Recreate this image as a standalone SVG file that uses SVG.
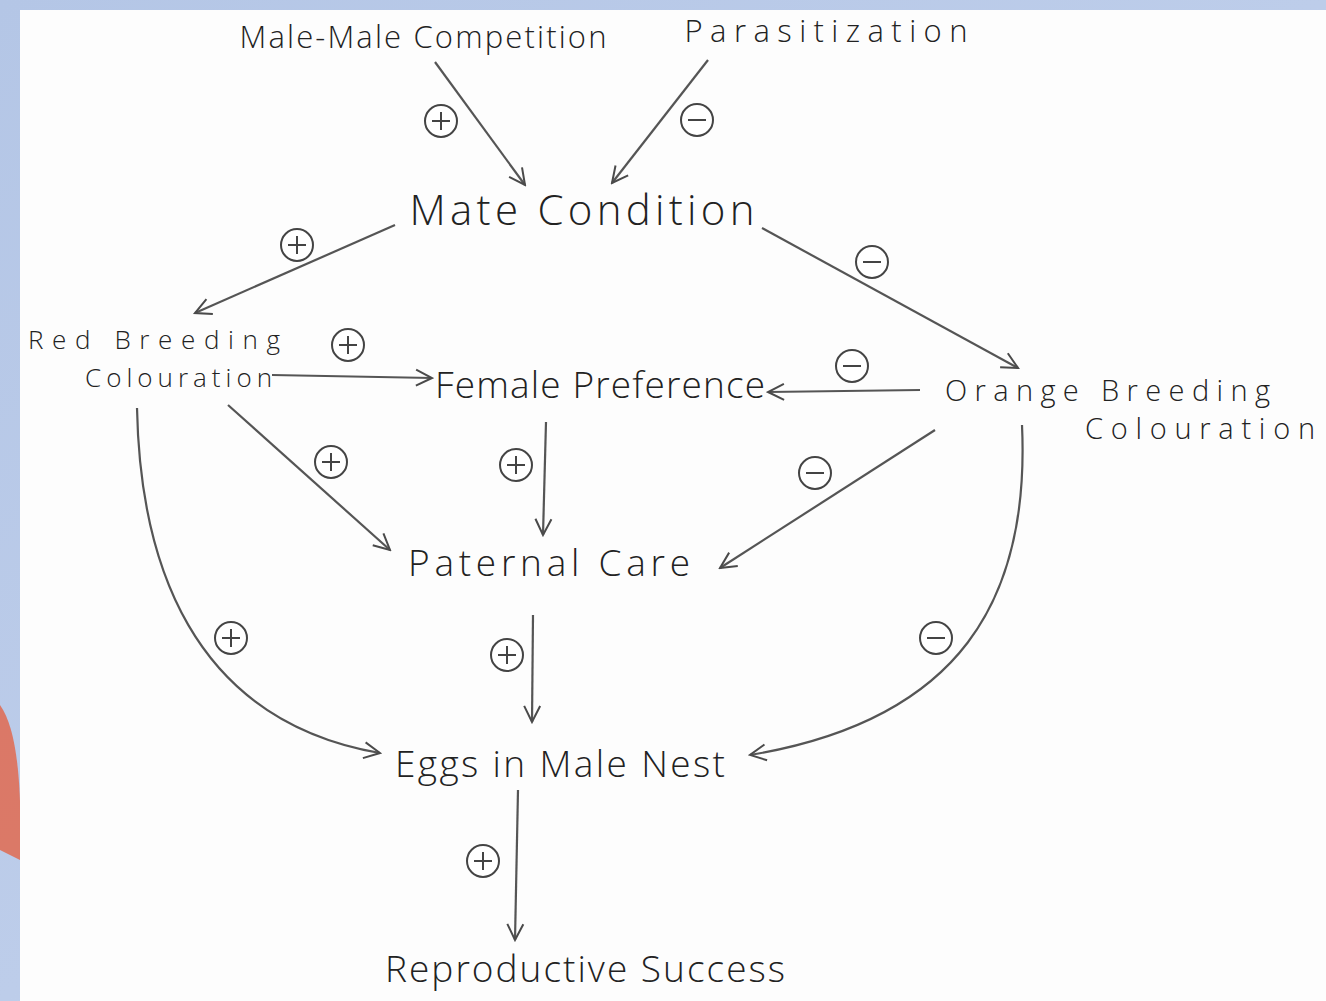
<svg xmlns="http://www.w3.org/2000/svg" width="1326" height="1001" viewBox="0 0 1326 1001">
<defs>
<linearGradient id="bg" x1="0" y1="0" x2="1" y2="1">
<stop offset="0" stop-color="#b4c6e6"/><stop offset="1" stop-color="#c6d4ee"/>
</linearGradient>
<marker id="ah" viewBox="0 0 20 20" refX="18" refY="10" markerWidth="20" markerHeight="20" markerUnits="userSpaceOnUse" orient="auto">
<path d="M2,2 L18,10 L2,18" fill="none" stroke="#4a4a4a" stroke-width="2"/>
</marker>
<style>
.t{font-family:"Open Sans","Liberation Sans",sans-serif;fill:#222;font-weight:300}
.c{fill:none;stroke:#555;stroke-width:2.2;marker-end:url(#ah)}
.s circle{fill:#fff;stroke:#444;stroke-width:2}
.s path{stroke:#444;stroke-width:2;fill:none}
</style>
</defs>
<rect width="1326" height="1001" fill="url(#bg)"/>
<path d="M0,705 C18,730 22,790 20,860 L0,850 Z" fill="#e06a50" opacity="0.85"/>
<rect x="20" y="10" width="1306" height="991" fill="#fdfdfd"/>

<g id="connectors">
<path class="c" d="M435,62 L525,185"/>
<path class="c" d="M708,60 L612,183"/>
<path class="c" d="M395,225 L195,313"/>
<path class="c" d="M762,228 L1018,368"/>
<path class="c" d="M272,375 L432,378"/>
<path class="c" d="M920,390 L768,392"/>
<path class="c" d="M228,405 L390,550"/>
<path class="c" d="M546,422 L543,535"/>
<path class="c" d="M935,430 L720,568"/>
<path class="c" d="M533,615 L532,722"/>
<path class="c" d="M137,408 C140,560 190,720 380,753"/>
<path class="c" d="M1022,425 C1030,600 960,720 750,755"/>
<path class="c" d="M518,790 L515,940"/>
</g>

<g id="signs" class="s">
<g transform="translate(441,121)"><circle r="16"/><path d="M-9,0 H9 M0,-9 V9"/></g>
<g transform="translate(697,120)"><circle r="16"/><path d="M-9,0 H9"/></g>
<g transform="translate(297,245)"><circle r="16"/><path d="M-9,0 H9 M0,-9 V9"/></g>
<g transform="translate(872,262)"><circle r="16"/><path d="M-9,0 H9"/></g>
<g transform="translate(348,345)"><circle r="16"/><path d="M-9,0 H9 M0,-9 V9"/></g>
<g transform="translate(852,366)"><circle r="16"/><path d="M-9,0 H9"/></g>
<g transform="translate(331,462)"><circle r="16"/><path d="M-9,0 H9 M0,-9 V9"/></g>
<g transform="translate(516,465)"><circle r="16"/><path d="M-9,0 H9 M0,-9 V9"/></g>
<g transform="translate(815,473)"><circle r="16"/><path d="M-9,0 H9"/></g>
<g transform="translate(507,655)"><circle r="16"/><path d="M-9,0 H9 M0,-9 V9"/></g>
<g transform="translate(231,638)"><circle r="16"/><path d="M-9,0 H9 M0,-9 V9"/></g>
<g transform="translate(936,638)"><circle r="16"/><path d="M-9,0 H9"/></g>
<g transform="translate(483,861)"><circle r="16"/><path d="M-9,0 H9 M0,-9 V9"/></g>
</g>

<g id="n-competition"><text class="t" x="423" y="48" font-size="31" text-anchor="middle" textLength="367">Male-Male Competition</text></g>
<g id="n-parasitization"><text class="t" x="826" y="42" font-size="31" text-anchor="middle" textLength="283">Parasitization</text></g>
<g id="n-mate"><text class="t" x="582" y="225" font-size="42" text-anchor="middle" textLength="345">Mate Condition</text></g>
<g id="n-red"><text class="t" font-size="26"><tspan x="28" y="349" textLength="252">Red Breeding</tspan><tspan x="85" y="387" textLength="187">Colouration</tspan></text></g>
<g id="n-female"><text class="t" x="600" y="398" font-size="37" text-anchor="middle" textLength="330">Female Preference</text></g>
<g id="n-orange"><text class="t" font-size="29"><tspan x="945" y="401" textLength="325">Orange Breeding</tspan><tspan x="1085" y="439" textLength="230">Colouration</tspan></text></g>
<g id="n-paternal"><text class="t" x="549" y="576" font-size="37" text-anchor="middle" textLength="282">Paternal Care</text></g>
<g id="n-eggs"><text class="t" x="560" y="777" font-size="37" text-anchor="middle" textLength="330">Eggs in Male Nest</text></g>
<g id="n-success"><text class="t" x="585" y="982" font-size="37" text-anchor="middle" textLength="400">Reproductive Success</text></g>
</svg>
